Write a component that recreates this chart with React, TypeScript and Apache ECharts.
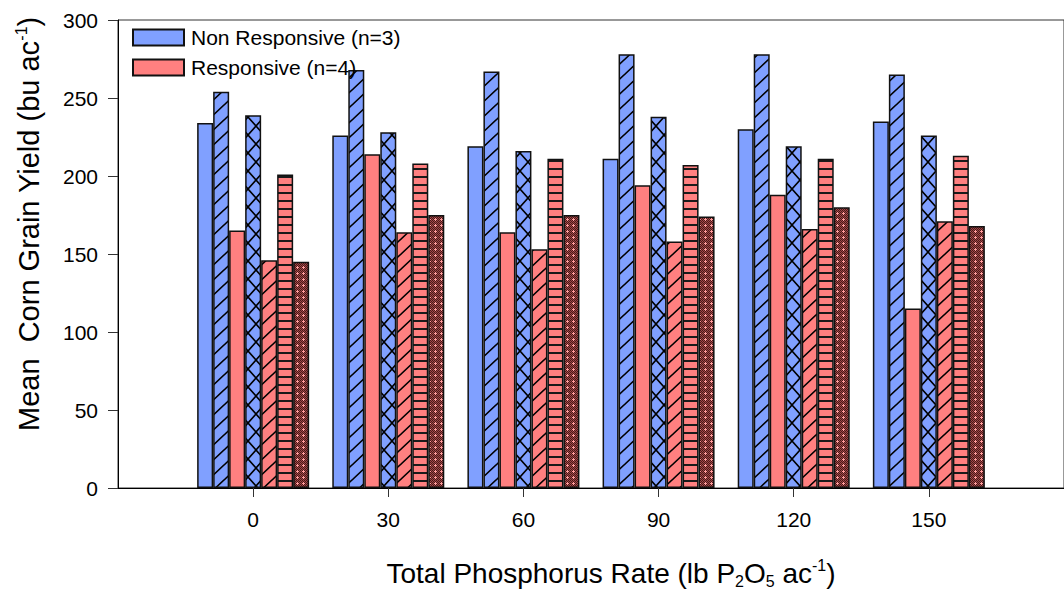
import React, { useEffect, useRef } from 'react';
import * as echarts from 'echarts';

// x categories (lb P2O5 per acre), padded with empty slots at both ends of the frame
const categories = ['0', '30', '60', '90', '120', '150'];
const axisCategories = ['-30', ...categories, '180'];

// Non responsive sites (n=3)
const nonRespSolid = [234, 226, 219, 211, 230, 235];
const nonRespDiag = [254, 268, 267, 278, 278, 265];
const nonRespCross = [239, 228, 216, 238, 219, 226];
// Responsive sites (n=4)
const respSolid = [165, 214, 164, 194, 188, 115];
const respDiag = [146, 164, 153, 158, 166, 171];
const respHoriz = [201, 208, 211, 207, 211, 213];
const respDense = [145, 175, 175, 174, 180, 168];

const BLUE = '#80A0FF';
const RED = '#FF8080';
const FONT = '"Liberation Sans", Arial, Helvetica, sans-serif';

function tile(kind: string, bg: string): any {
  const c = document.createElement('canvas');
  let w = 16, h = 15;
  if (kind === 'cross') { w = 16; h = 18; }
  if (kind === 'horiz') { w = 4; h = 8; }
  if (kind === 'dense') { w = 6; h = 6; }
  c.width = w; c.height = h;
  const ctx = c.getContext('2d') as CanvasRenderingContext2D;
  ctx.fillStyle = bg;
  ctx.fillRect(0, 0, w, h);
  ctx.strokeStyle = '#000';
  ctx.lineWidth = 1.6;
  if (kind === 'diag' || kind === 'cross') {
    ctx.beginPath();
    for (const dx of [-w, 0, w]) {
      ctx.moveTo(dx - w, 2 * h);
      ctx.lineTo(dx + 2 * w, -h);
      if (kind === 'cross') {
        ctx.moveTo(dx - w, -h);
        ctx.lineTo(dx + 2 * w, 2 * h);
      }
    }
    ctx.stroke();
  } else if (kind === 'horiz') {
    ctx.fillStyle = '#1a1a1a';
    ctx.fillRect(0, 0, w, 2);
  } else if (kind === 'dense') {
    for (let y = 0; y < h; y++) {
      for (let x = 0; x < w; x++) {
        ctx.fillStyle = (x + y) % 2 === 0 ? '#4a1818' : '#a04848';
        ctx.fillRect(x, y, 1, 1);
      }
    }
    ctx.fillStyle = '#ff9a9a';
    ctx.fillRect(2, 3, 3, 1);
    ctx.fillRect(3, 2, 1, 3);
  }
  return { image: c.toDataURL(), repeat: 'repeat', imageWidth: w, imageHeight: h };
}

const pad = (arr: number[]) => ['-', ...arr, '-'];

export default function App() {
  const ref = useRef<HTMLDivElement>(null);
  useEffect(() => {
    if (!ref.current) return;
    const chart = echarts.init(ref.current, null, { renderer: 'svg' });
    const border = { borderColor: '#111', borderWidth: 1.5 };
    const mk = (name: string, data: number[], color: any) => ({
      name,
      type: 'bar',
      data: pad(data),
      barWidth: 16,
      barGap: '0%',
      itemStyle: { color, ...border },
      emphasis: { disabled: true },
    });
    const showIdx = (i: number) => i > 0 && i < axisCategories.length - 1;
    chart.setOption({
      animation: false,
      backgroundColor: '#fff',
      grid: {
        left: 118, right: -10, top: 20, bottom: 104,
        show: true, borderColor: '#333', borderWidth: 1, backgroundColor: 'transparent',
      },
      legend: {
        orient: 'vertical', left: 127, top: 22,
        itemWidth: 51, itemHeight: 16, itemGap: 9, icon: 'rect',
        data: ['Non Responsive (n=3)', 'Responsive (n=4)'],
        textStyle: { fontSize: 21, color: '#000', fontFamily: FONT, padding: [0, 0, 0, 2] },
        selectedMode: false,
      },
      xAxis: {
        type: 'category',
        data: axisCategories,
        boundaryGap: false,
        axisLine: { lineStyle: { color: '#000', width: 1 } },
        axisTick: { show: true, length: 9, interval: (i: number) => showIdx(i), lineStyle: { color: '#333' } },
        axisLabel: { interval: (i: number) => showIdx(i), fontSize: 21, color: '#000', margin: 21, fontFamily: FONT },
        splitLine: { show: false },
      },
      yAxis: {
        type: 'value', min: 0, max: 300, interval: 50,
        axisLine: { show: true, lineStyle: { color: '#000', width: 1 } },
        axisTick: { show: true, length: 10, lineStyle: { color: '#333' } },
        axisLabel: { fontSize: 21, color: '#000', margin: 20, fontFamily: FONT },
        splitLine: { show: false },
      },
      graphic: [
        {
          type: 'text', x: 29, y: 224, rotation: Math.PI / 2,
          style: {
            text: '{n|Mean  Corn Grain Yield (bu ac}{s|-1}{n|)}',
            textAlign: 'center', textVerticalAlign: 'middle', align: 'center', verticalAlign: 'middle',
            rich: {
              n: { fontSize: 29, fontFamily: FONT, fill: '#000' },
              s: { fontSize: 16, fontFamily: FONT, fill: '#000', padding: [0, 0, 16, 0] },
            },
          },
        },
        {
          type: 'text', x: 611, y: 573,
          style: {
            text: '{n|Total Phosphorus Rate (lb P}{b|2}{n|O}{b|5}{n| ac}{s|-1}{n|)}',
            textAlign: 'center', textVerticalAlign: 'middle', align: 'center', verticalAlign: 'middle',
            rich: {
              n: { fontSize: 28, fontFamily: FONT, fill: '#000' },
              s: { fontSize: 16, fontFamily: FONT, fill: '#000', padding: [0, 0, 16, 0] },
              b: { fontSize: 16, fontFamily: FONT, fill: '#000', padding: [16, 0, 0, 0] },
            },
          },
        },
      ],
      series: [
        mk('Non Responsive (n=3)', nonRespSolid, BLUE),
        mk('Non Responsive B', nonRespDiag, tile('diag', BLUE)),
        mk('Responsive (n=4)', respSolid, RED),
        mk('Non Responsive C', nonRespCross, tile('cross', BLUE)),
        mk('Responsive B', respDiag, tile('diag', RED)),
        mk('Responsive C', respHoriz, tile('horiz', RED)),
        mk('Responsive D', respDense, tile('dense', RED)),
      ],
    });
    return () => chart.dispose();
  }, []);
  return (
    <div
      ref={ref}
      style={{ position: 'absolute', left: 0, top: 0, width: 1064, height: 592, background: '#fff' }}
    />
  );
}
